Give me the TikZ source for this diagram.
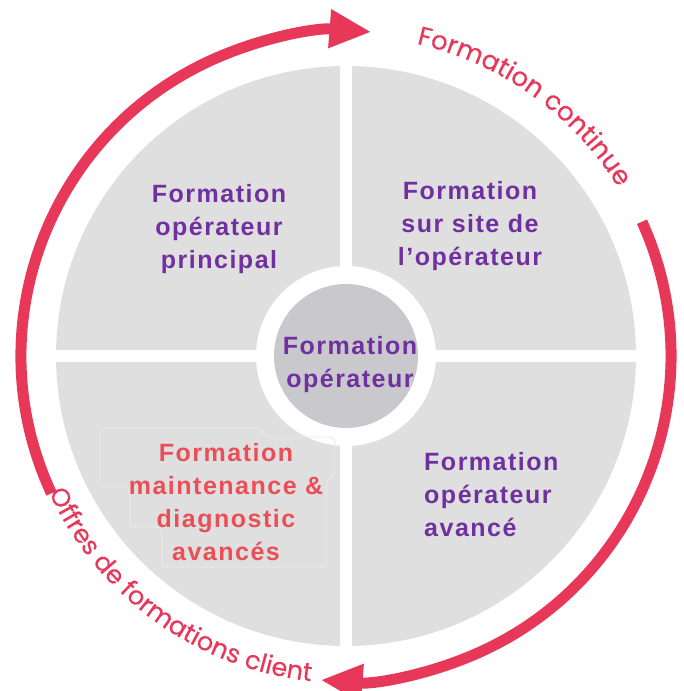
\documentclass[tikz,border=0pt]{standalone}
\usepackage{fontspec}
\setmainfont{Liberation Sans}
\newfontfamily\labelfont[LetterSpace=6]{Liberation Sans}
\newfontfamily\arcfont[FakeBold=0.4]{Poppins}
\usetikzlibrary{arrows.meta,decorations.text}
\definecolor{diskgray}{HTML}{DFDFDF}
\definecolor{hubgray}{HTML}{C9C8CD}
\definecolor{arcred}{HTML}{E8385A}
\definecolor{labelred}{HTML}{EA4F58}
\definecolor{labelpurple}{HTML}{7030A0}
\definecolor{faintline}{HTML}{E9E9E9}
\tikzset{
  lbl/.style={font=\labelfont\bfseries\fontsize{25}{33}\selectfont, text=labelpurple, align=center, inner sep=0pt},
  cyclearrow/.style={draw=arcred, line width=11pt, -{Triangle[length=42pt,width=36pt]}},
  arclabel/.style={decorate, decoration={text along path, text align=center, text color=arcred}}
}
\begin{document}
\begin{tikzpicture}[x=1pt,y=1pt]
\useasboundingbox (0,0) rectangle (683,691);
\coordinate (C) at (346,335);
% disk
\fill[diskgray] (C) circle[radius=290];
\fill[white] (40,329) rectangle (660,341);
\fill[white] (340,35) rectangle (352,635);
\fill[white] (C) circle[radius=90];
\fill[hubgray] (C) circle[radius=72];
% faint outline behind red label
\draw[faintline, line width=0.8pt, rounded corners=6pt]
  (100,263) -- (263,263) -- (263,254) -- (335,254) -- (335,214) -- (327,214)
  -- (327,124) -- (162,124) -- (162,164) -- (130,164) -- (130,204) -- (100,204) -- cycle;
% cycle arrows
\draw[cyclearrow] ([shift={(205:325)}]C) arc[start angle=205, end angle=85.5, radius=325];
\draw[cyclearrow] ([shift={(24.4:325)}]C) arc[start angle=24.4, end angle=-94.5, radius=325];
% curved labels
\path[arclabel, decoration={text={|\arcfont\fontsize{26}{26}\selectfont|Formation continue}}]
  ([shift={(80:320)}]C) arc[start angle=80, end angle=29, radius=320];
\path[arclabel, decoration={text={|\arcfont\fontsize{25.5}{26}\selectfont|Offres de formations client}}]
  ([shift={(196.5:327)}]C) arc[start angle=196.5, end angle=272, radius=327];
% labels
\node[lbl] (tl) at (219,462) {Formation\\opérateur\\principal};
\node[lbl] (tr) at (470,465) {Formation\\sur site de\\l’opérateur};
\node[lbl] (hub) at (350,326) {Formation\\opérateur};
\node[lbl, align=left, anchor=west] (br) at (424,196) {Formation\\opérateur\\avancé};
\node[lbl, text=labelred] (red) at (226,189) {Formation\\maintenance \&\\diagnostic\\avancés};
\end{tikzpicture}
\end{document}
